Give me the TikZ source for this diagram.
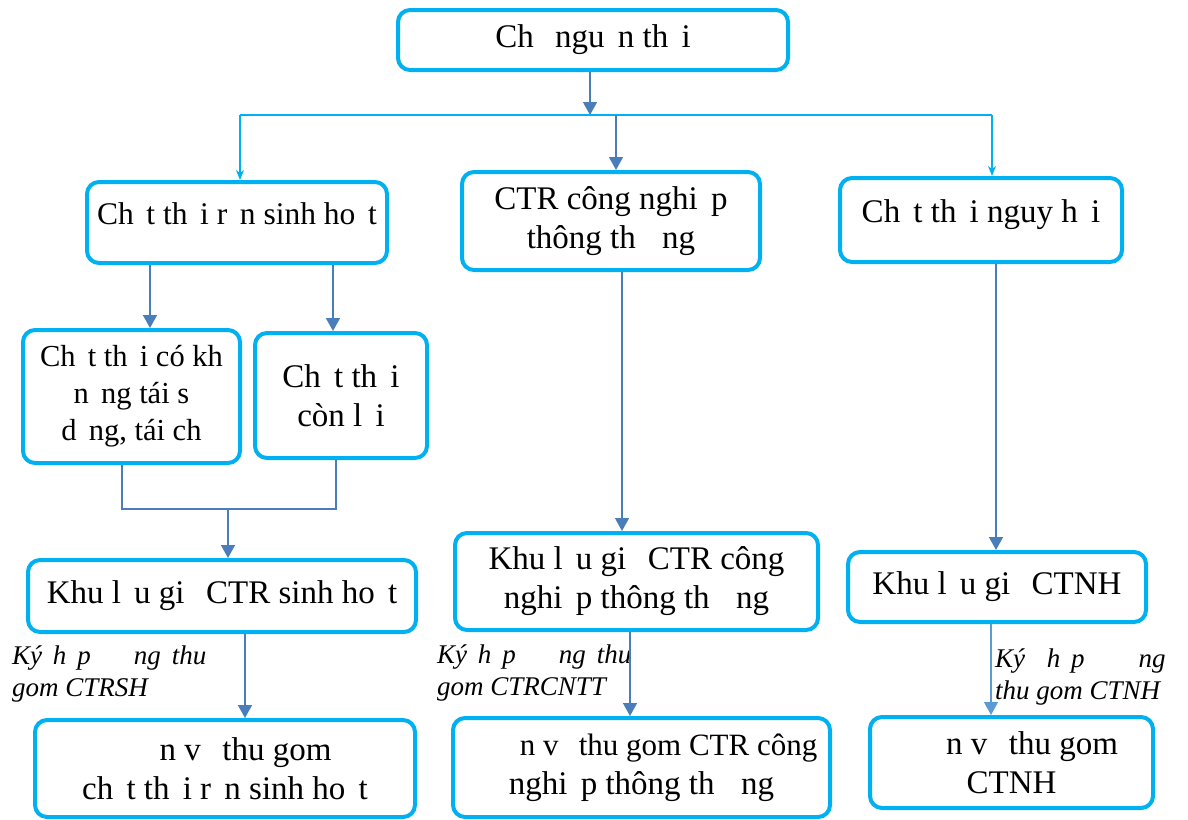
\documentclass[tikz,border=0pt]{standalone}
\usepackage{fontspec}
\setmainfont{Liberation Serif}
\usetikzlibrary{arrows.meta}
\definecolor{boxcyan}{RGB}{0,176,240}
\definecolor{arrblue}{RGB}{74,126,187}
\definecolor{arrlight}{RGB}{91,155,213}
\newcommand\mc{\hspace{0.4em}}
\begin{document}
\begin{tikzpicture}[x=1pt,y=-1pt,
  wbox/.style={draw=boxcyan,line width=4pt,rounded corners=12pt,align=center,
    inner sep=2pt,font=\fontsize{33}{39}\selectfont},
  raised/.style={text depth=18pt},
  smallbox/.style={font=\fontsize{30.5}{37}\selectfont},
  lab/.style={anchor=north west,align=left,inner sep=0pt,
    font=\fontsize{27}{32}\selectfont\itshape},
  conn/.style={draw=arrblue,line width=1.5pt},
  arr/.style={conn,-{Triangle[length=13pt,width=14pt]}},
  carr/.style={draw=boxcyan,line width=1.4pt,-{Stealth[length=10pt,width=8pt,inset=3pt]}},
]
\useasboundingbox (0,0) rectangle (1188,819);

% boxes
\node[wbox,minimum width=390,minimum height=60] (top) at (593,40) {Ch\mc{} ngu\mc n th\mc i};
\node[wbox,raised,font=\fontsize{31.5}{38}\selectfont,minimum width=300,minimum height=81] (b1) at (237,222.5) {Ch\mc t th\mc i r\mc n sinh ho\mc t};
\node[wbox,minimum width=298,minimum height=98] (b2) at (611,221) {CTR công nghi\mc p\\thông th\mc\mc ng};
\node[wbox,raised,minimum width=282,minimum height=84] (b3) at (981,220) {Ch\mc t th\mc i nguy h\mc i};
\node[wbox,smallbox,minimum width=217,minimum height=133] (c1) at (131.5,396.5) {Ch\mc t th\mc i có kh\mc\\n\mc ng tái s\mc\\d\mc ng, tái ch\mc};
\node[wbox,minimum width=172,minimum height=125] (c2) at (341,395.5) {Ch\mc t th\mc i\\còn l\mc i};
\node[wbox,minimum width=388,minimum height=72] (k1) at (222,596) {Khu l\mc u gi\mc{} CTR sinh ho\mc t};
\node[wbox,minimum width=363,minimum height=97] (k2) at (636.5,581.5) {Khu l\mc u gi\mc{} CTR công\\nghi\mc p thông th\mc\mc ng};
\node[wbox,minimum width=298,minimum height=70] (k3) at (997,587) {Khu l\mc u gi\mc{} CTNH};
\node[wbox,minimum width=380,minimum height=97] (d1) at (225,768.5) {\hspace*{1.25em}n v\mc{} thu gom\\ch\mc t th\mc i r\mc n sinh ho\mc t};
\node[wbox,minimum width=377,minimum height=99] (d2) at (641.5,767.5) {{\fontsize{31}{39}\selectfont\hspace*{1.75em}n v\mc{} thu gom CTR công}\\nghi\mc p thông th\mc\mc ng};
\node[wbox,minimum width=283,minimum height=91] (d3) at (1011.5,762.5) {\hspace*{1.25em}n v\mc{} thu gom\\CTNH};

% labels
\node[lab] (l1) at (12,646) {Ký\mc h\mc p\mc\mc\mc\mc ng\mc thu\\gom CTRSH};
\node[lab] (l2) at (437,645) {Ký\mc h\mc p\mc\mc\mc\mc ng\mc thu\\gom CTRCNTT};
\node[lab] (l3) at (995,649) {Ký\mc\mc h\mc p\mc\mc\mc\mc\mc ng\\thu gom CTNH};

% junction coordinates
\coordinate (j0) at (590,115);
\coordinate (hl) at (240,115);
\coordinate (hm) at (616,115);
\coordinate (hr) at (992,115);
\coordinate (x1) at (150,0);
\coordinate (x2) at (333,0);
\coordinate (m1) at (122,509);
\coordinate (m2) at (336,509);
\coordinate (m0) at (228,509);
\coordinate (xk1) at (245,0);
\coordinate (xb2) at (622,0);
\coordinate (xk2) at (630,0);
\coordinate (xb3) at (996,0);
\coordinate (xk3) at (991,0);

% connectors
\draw[arr] (top.south -| j0) -- (j0);
\draw[draw=boxcyan,line width=1.4pt] (hl) -- (hr);
\draw[carr] (hl) -- (hl |- b1.north);
\draw[carr] (hr) -- (hr |- b3.north);
\draw[arr] (hm) -- (hm |- b2.north);
\draw[arr] (b1.south -| x1) -- (c1.north -| x1);
\draw[arr] (b1.south -| x2) -- (c2.north -| x2);
\draw[conn] (c1.south -| m1) -- (m1) -- (m2) -- (c2.south -| m2);
\draw[arr] (m0) -- (k1.north -| m0);
\draw[arr] (k1.south -| xk1) -- (d1.north -| xk1);
\draw[arr] (b2.south -| xb2) -- (k2.north -| xb2);
\draw[arr] (k2.south -| xk2) -- (d2.north -| xk2);
\draw[arr] (b3.south -| xb3) -- (k3.north -| xb3);
\draw[arr,draw=arrlight,fill=arrlight,line width=1.2pt] (k3.south -| xk3) -- (d3.north -| xk3);
\end{tikzpicture}
\end{document}
